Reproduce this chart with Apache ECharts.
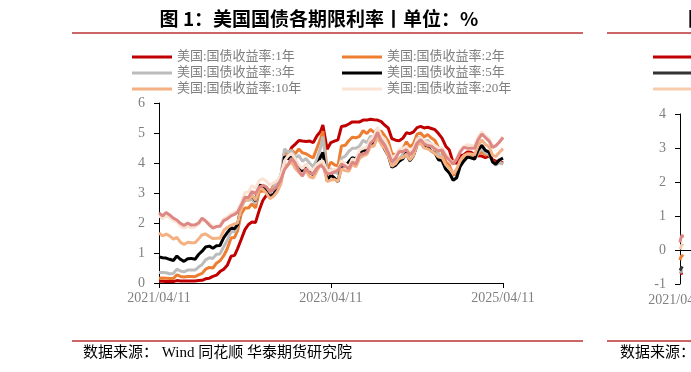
<!DOCTYPE html>
<html><head><meta charset="utf-8">
<script src="https://cdn.jsdelivr.net/npm/echarts@6/dist/echarts.min.js"></script>
<style>html,body{margin:0;padding:0;background:#fff}#c{width:691px;height:372px}</style>
</head><body><div id="c"></div>
<script>
// ---------- data : chart 1 (US treasuries) ----------
const dates = [
 '2021-04-11','2021-04-26','2021-05-11','2021-05-26','2021-06-11','2021-06-26','2021-07-11','2021-07-26','2021-08-11','2021-08-26',
 '2021-09-11','2021-09-26','2021-10-11','2021-10-26','2021-11-11','2021-11-26','2021-12-11','2021-12-26','2022-01-11','2022-01-26',
 '2022-02-11','2022-02-26','2022-03-11','2022-03-26','2022-04-11','2022-04-26','2022-05-11','2022-05-26','2022-06-11','2022-06-26',
 '2022-07-11','2022-07-26','2022-08-11','2022-08-26','2022-09-11','2022-09-26','2022-10-11','2022-10-26','2022-11-11','2022-11-26',
 '2022-12-11','2022-12-26','2023-01-11','2023-01-26','2023-02-11','2023-02-26','2023-03-08','2023-03-26','2023-04-11','2023-04-26',
 '2023-05-11','2023-05-26','2023-06-11','2023-06-26','2023-07-11','2023-07-26','2023-08-11','2023-08-26','2023-09-11','2023-09-26',
 '2023-10-11','2023-10-26','2023-11-11','2023-11-26','2023-12-11','2023-12-26','2024-01-11','2024-01-26','2024-02-11','2024-02-26',
 '2024-03-11','2024-03-26','2024-04-11','2024-04-26','2024-05-11','2024-05-26','2024-06-11','2024-06-26','2024-07-11','2024-07-26',
 '2024-08-11','2024-08-26','2024-09-11','2024-09-26','2024-10-11','2024-10-26','2024-11-11','2024-11-26','2024-12-11','2024-12-26',
 '2025-01-11','2025-01-26','2025-02-11','2025-02-26','2025-03-11','2025-03-26','2025-04-11'
];
const y1 = [
 0.06,0.06,0.05,0.05,0.05,0.08,0.07,0.07,0.07,0.07,
 0.07,0.08,0.09,0.14,0.16,0.22,0.26,0.38,0.46,0.59,
 0.89,0.92,1.15,1.45,1.78,1.95,2.03,2.02,2.43,2.75,
 2.92,2.98,3.24,3.34,3.58,4.17,4.24,4.51,4.63,4.75,
 4.73,4.72,4.73,4.68,4.91,5.05,5.27,4.46,4.68,4.73,
 4.77,5.22,5.24,5.30,5.37,5.37,5.37,5.43,5.43,5.46,
 5.44,5.43,5.38,5.26,5.16,4.81,4.76,4.74,4.83,5.01,
 4.98,5.03,5.18,5.22,5.17,5.19,5.15,5.11,4.98,4.83,
 4.56,4.43,4.02,3.99,4.26,4.27,4.37,4.36,4.26,4.24,
 4.23,4.18,4.24,4.11,4.06,4.06,4.00];
const y2 = [
 0.16,0.17,0.16,0.15,0.15,0.27,0.22,0.20,0.22,0.22,
 0.21,0.27,0.32,0.46,0.52,0.50,0.66,0.74,0.91,1.14,
 1.50,1.52,1.75,2.30,2.50,2.50,2.64,2.50,3.06,3.06,
 3.08,3.03,3.24,3.39,3.55,4.36,4.31,4.44,4.31,4.47,
 4.34,4.31,4.23,4.17,4.50,4.81,5.06,3.78,4.03,3.94,
 3.90,4.57,4.59,4.74,4.86,4.84,4.89,5.08,4.98,5.12,
 5.02,5.05,5.06,4.90,4.72,4.31,4.27,4.36,4.48,4.71,
 4.54,4.63,4.96,5.00,4.87,4.95,4.83,4.75,4.51,4.38,
 4.04,3.92,3.62,3.59,3.96,4.12,4.28,4.25,4.15,4.30,
 4.37,4.27,4.29,4.07,3.95,4.04,3.96];
const y3 = [
 0.35,0.35,0.34,0.31,0.32,0.46,0.40,0.37,0.43,0.43,
 0.43,0.53,0.61,0.77,0.84,0.82,0.96,0.97,1.21,1.43,
 1.71,1.71,1.92,2.55,2.77,2.76,2.79,2.65,3.24,3.18,
 3.12,3.00,3.19,3.38,3.57,4.47,4.35,4.41,4.17,4.25,
 4.06,4.15,3.99,3.87,4.13,4.51,4.88,3.64,3.81,3.72,
 3.64,4.16,4.23,4.39,4.49,4.49,4.57,4.76,4.67,4.89,
 4.85,4.91,4.86,4.63,4.44,4.03,4.06,4.14,4.28,4.49,
 4.30,4.41,4.82,4.87,4.71,4.75,4.63,4.52,4.31,4.21,
 3.86,3.77,3.45,3.49,3.89,4.06,4.20,4.18,4.13,4.35,
 4.47,4.33,4.30,4.02,3.93,4.01,3.97];
const y5 = [
 0.87,0.84,0.83,0.79,0.75,0.90,0.79,0.72,0.81,0.82,
 0.79,0.95,1.06,1.20,1.23,1.16,1.24,1.25,1.51,1.68,
 1.84,1.81,1.95,2.57,2.79,2.80,2.91,2.74,3.26,3.24,
 3.04,2.86,2.96,3.18,3.41,4.21,4.14,4.20,3.93,3.91,
 3.73,3.91,3.69,3.61,3.91,4.20,4.35,3.42,3.60,3.50,
 3.38,3.90,3.91,4.04,4.18,4.14,4.31,4.44,4.38,4.67,
 4.67,4.84,4.68,4.45,4.25,3.86,3.92,4.06,4.14,4.34,
 4.07,4.23,4.60,4.70,4.52,4.53,4.40,4.33,4.11,4.08,
 3.79,3.67,3.42,3.51,3.89,4.06,4.20,4.17,4.13,4.43,
 4.59,4.42,4.36,4.03,3.96,4.10,4.16];
const y10 = [
 1.67,1.57,1.63,1.57,1.46,1.52,1.36,1.28,1.36,1.34,
 1.34,1.47,1.61,1.63,1.55,1.48,1.49,1.49,1.75,1.85,
 1.92,1.97,2.00,2.48,2.79,2.77,2.92,2.76,3.15,3.13,
 2.99,2.81,2.89,3.04,3.31,3.93,3.94,4.04,3.82,3.69,
 3.58,3.75,3.54,3.50,3.74,3.95,3.97,3.38,3.43,3.45,
 3.39,3.80,3.75,3.72,3.97,3.87,4.16,4.24,4.29,4.55,
 4.56,4.86,4.61,4.47,4.24,3.89,3.98,4.15,4.18,4.30,
 4.10,4.24,4.59,4.67,4.50,4.47,4.40,4.32,4.20,4.19,
 3.94,3.82,3.65,3.79,4.08,4.24,4.31,4.30,4.27,4.58,
 4.77,4.62,4.54,4.25,4.22,4.35,4.48];
const y20 = [
 2.25,2.15,2.25,2.18,2.08,2.03,1.89,1.83,1.89,1.85,
 1.87,1.96,2.09,2.07,1.99,1.89,1.89,1.92,2.14,2.20,
 2.30,2.36,2.42,2.67,3.02,3.03,3.25,3.15,3.42,3.48,
 3.39,3.26,3.34,3.41,3.61,4.07,4.24,4.32,4.13,3.94,
 3.81,3.97,3.78,3.77,3.95,4.05,4.07,3.72,3.76,3.79,
 3.77,4.08,3.98,3.86,4.14,4.09,4.44,4.49,4.53,4.79,
 4.89,5.19,4.90,4.79,4.52,4.16,4.26,4.47,4.48,4.56,
 4.39,4.48,4.78,4.86,4.72,4.69,4.64,4.58,4.50,4.50,
 4.31,4.13,4.00,4.14,4.40,4.55,4.61,4.59,4.57,4.86,
 5.04,4.90,4.81,4.57,4.58,4.69,4.87];
const y30 = [
 2.34,2.24,2.35,2.27,2.16,2.10,1.99,1.92,2.00,1.93,
 1.94,2.00,2.16,2.07,1.93,1.83,1.88,1.89,2.08,2.14,
 2.24,2.29,2.36,2.59,2.86,2.85,3.05,2.98,3.19,3.26,
 3.20,3.05,3.12,3.22,3.45,3.78,3.94,4.16,4.00,3.74,
 3.56,3.82,3.67,3.63,3.83,3.92,3.87,3.64,3.65,3.70,
 3.76,3.97,3.89,3.81,4.03,3.96,4.28,4.30,4.36,4.66,
 4.76,5.02,4.73,4.60,4.34,4.04,4.16,4.38,4.37,4.44,
 4.27,4.39,4.66,4.78,4.64,4.58,4.56,4.46,4.40,4.44,
 4.22,4.10,3.96,4.12,4.36,4.52,4.49,4.49,4.49,4.77,
 4.96,4.85,4.73,4.52,4.57,4.69,4.85];
const names1 = ['美国:国债收益率:1年','美国:国债收益率:2年','美国:国债收益率:3年',
                '美国:国债收益率:5年','美国:国债收益率:10年','美国:国债收益率:20年','美国:国债收益率:30年'];
const xTicks = ['2021-04-11','2023-04-11','2025-04-11'];
const yTicks1 = [0,1,2,3,4,5,6];

// ---------- data : chart 2 (only its left edge is in frame) ----------
const dates2 = ['2021-04-11','2021-04-19','2021-04-26','2021-05-04','2021-05-11','2021-05-18','2021-05-26','2021-06-04'];
const z2y  = [-0.70,-0.69,-0.68,-0.70,-0.67,-0.66,-0.67,-0.66];
const z10y = [-0.30,-0.24,-0.22,-0.21,-0.16,-0.12,-0.18,-0.20];
const z3y  = [-0.68,-0.66,-0.65,-0.66,-0.62,-0.60,-0.62,-0.62];
const z5y  = [-0.60,-0.57,-0.55,-0.56,-0.51,-0.48,-0.52,-0.53];
const z20y = [0.02,0.06,0.08,0.10,0.16,0.20,0.14,0.12];
const z30y = [0.22,0.30,0.34,0.38,0.42,0.45,0.38,0.36];
const names2 = ['德国:国债收益率:2年','德国:国债收益率:10年','德国:国债收益率:3年',
                '德国:国债收益率:5年','德国:国债收益率:20年','德国:国债收益率:30年'];
const yTicks2 = [-1,0,1,2,3,4];

// ---------- build ----------
const SERIF = '"Liberation Serif","Times New Roman","Noto Sans CJK SC",serif';
const GRAY = '#7f7f7f';
const T = s => { const p = s.split('-').map(Number); return new Date(p[0], p[1]-1, p[2]).getTime(); };
const pad = n => (n < 10 ? '0' : '') + n;
const fmt = v => { const d = new Date(v); return d.getFullYear() + '/' + pad(d.getMonth()+1) + '/' + pad(d.getDate()); };
const tickVals = xTicks.map(T);
const zip = (ds, vs) => ds.map((d, i) => [T(d), vs[i]]);

const cols1 = ['#c00000','#ed7d31','#bcbcbc','#000000','#f4b183','#fbe3d4','#de8885'];
const vals1 = [y1,y2,y3,y5,y10,y20,y30];
const cols2 = ['#c00000','#ed7d31','#a6a6a6','#333333','#f8cbad','#de8885'];
const vals2 = [z2y,z10y,z3y,z5y,z20y,z30y];

const series = [];
vals1.forEach((v, i) => series.push({
  name: names1[i], type: 'line', xAxisIndex: 0, yAxisIndex: 0, data: zip(dates, v),
  showSymbol: false, symbol: 'none', lineStyle: { color: cols1[i], width: 3 }, itemStyle: { color: cols1[i] }
}));
vals2.forEach((v, i) => series.push({
  name: names2[i], type: 'line', xAxisIndex: 2, yAxisIndex: 1, data: zip(dates2, v),
  showSymbol: false, symbol: 'none', lineStyle: { color: cols2[i], width: 3 }, itemStyle: { color: cols2[i] }
}));

const legendBase = {
  orient: 'vertical', top: 50, itemGap: 2, itemWidth: 40, itemHeight: 3, icon: 'rect',
  padding: 0, textStyle: { color: GRAY, fontFamily: SERIF, fontSize: 13, lineHeight: 14 }
};
const axLabel = { color: GRAY, fontFamily: SERIF, fontSize: 14 };
const xMin = T(xTicks[0]), xMax = T(xTicks[xTicks.length-1]);

const option = {
  animation: false,
  backgroundColor: '#fff',
  grid: [
    { left: 159, top: 103, width: 344, height: 180 },
    { left: 680, top: 114, width: 344, height: 170 }
  ],
  legend: [
    Object.assign({ left: 132, data: [names1[0], names1[2], names1[4]] }, legendBase),
    Object.assign({ left: 342, data: [names1[1], names1[3], names1[5]] }, legendBase),
    Object.assign({ left: 653, data: [names2[0], names2[3], names2[4]] }, legendBase),
    Object.assign({ left: 863, data: [names2[1], names2[2], names2[5]] }, legendBase)
  ],
  xAxis: [
    { type: 'value', gridIndex: 0, position: 'bottom', min: xMin, max: xMax, scale: true,
      axisLine: { lineStyle: { color: '#000', width: 1 } },
      axisTick: { show: true, customValues: tickVals, length: 5, lineStyle: { color: '#000' } },
      axisLabel: Object.assign({ customValues: tickVals, formatter: fmt, margin: 8, showMinLabel: true, showMaxLabel: true }, axLabel),
      splitLine: { show: false } },
    { type: 'value', gridIndex: 1, position: 'bottom', min: xMin, max: xMax, scale: true,
      axisLine: { onZero: true, lineStyle: { color: '#000', width: 1 } },
      axisTick: { show: false }, axisLabel: { show: false }, splitLine: { show: false } },
    { type: 'value', gridIndex: 1, position: 'bottom', min: xMin, max: xMax, scale: true,
      axisLine: { show: false, onZero: false },
      axisTick: { show: false },
      axisLabel: Object.assign({ customValues: tickVals, formatter: fmt, margin: 9, showMinLabel: true, showMaxLabel: true }, axLabel),
      splitLine: { show: false } }
  ],
  yAxis: [
    { type: 'value', gridIndex: 0, min: yTicks1[0], max: yTicks1[yTicks1.length-1], interval: 1,
      axisLine: { show: true, lineStyle: { color: '#000', width: 1 } },
      axisTick: { show: true, length: 5, lineStyle: { color: '#000' } },
      axisLabel: Object.assign({ margin: 14 }, axLabel), splitLine: { show: false } },
    { type: 'value', gridIndex: 1, min: yTicks2[0], max: yTicks2[yTicks2.length-1], interval: 1,
      axisLine: { show: true, onZero: false, lineStyle: { color: '#000', width: 1 } },
      axisTick: { show: true, length: 5, lineStyle: { color: '#000' } },
      axisLabel: Object.assign({ margin: 14 }, axLabel), splitLine: { show: false } }
  ],
  series: series,
  graphic: [
    { type: 'text', x: 319, y: 9, style: { text: '图 1：美国国债各期限利率丨单位：%', align: 'center',
      font: 'bold 19px "Noto Sans CJK SC", sans-serif', fill: '#000' } },
    { type: 'text', x: 688, y: 9, style: { text: '图 2：德国国债各期限利率丨单位：%',
      font: 'bold 19px "Noto Sans CJK SC", sans-serif', fill: '#000' } },
    { type: 'line', shape: { x1: 72, y1: 33, x2: 583, y2: 33 }, style: { stroke: '#cc6666', lineWidth: 2 } },
    { type: 'line', shape: { x1: 607, y1: 33, x2: 691, y2: 33 }, style: { stroke: '#cc6666', lineWidth: 2 } },
    { type: 'line', shape: { x1: 72, y1: 341, x2: 583, y2: 341 }, style: { stroke: '#cc6666', lineWidth: 2 } },
    { type: 'line', shape: { x1: 607, y1: 341, x2: 691, y2: 341 }, style: { stroke: '#cc6666', lineWidth: 2 } },
    { type: 'text', x: 83, y: 346, style: { text: '数据来源： Wind 同花顺 华泰期货研究院',
      font: '15px "Liberation Serif","Noto Sans CJK SC",serif', fill: '#000' } },
    { type: 'text', x: 620, y: 346, style: { text: '数据来源： Wind 同花顺 华泰期货研究院',
      font: '15px "Liberation Serif","Noto Sans CJK SC",serif', fill: '#000' } }
  ]
};
const chart = echarts.init(document.getElementById('c'), null, { renderer: 'canvas' });
chart.setOption(option);
</script></body></html>
